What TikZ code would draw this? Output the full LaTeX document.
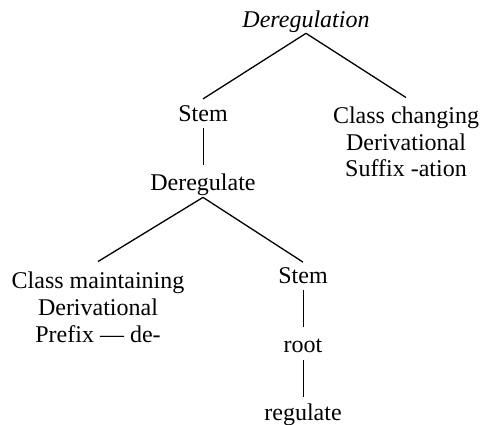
\documentclass[tikz,border=0pt]{standalone}
\usepackage{fontspec}
\setmainfont{Liberation Serif}
\begin{document}
\begin{tikzpicture}[x=1pt,y=-1pt,
  lbl/.style={inner sep=0pt, anchor=base, align=center, font=\fontsize{24}{27}\selectfont},
  edge/.style={line width=1.3pt, black},
  vedge/.style={line width=0.8pt, black}]
\useasboundingbox (0,0) rectangle (482,425);
\node[lbl, font=\fontsize{24}{27}\selectfont\itshape] (top) at (306,28) {Deregulation};
\node[lbl] (stem1) at (203,122) {Stem};
\node[lbl] (classch) at (406,177) {Class changing\\Derivational\\Suffix -ation};
\node[lbl] (dereg2) at (203,190) {Deregulate};
\node[lbl] (classm) at (98,342) {Class maintaining\\Derivational\\Prefix --- de-};
\node[lbl] (stem2) at (303,283) {Stem};
\node[lbl] (root) at (303,352) {root};
\node[lbl] (regul) at (303,420) {regulate};
\draw[edge] (top.south) -- ([yshift=7pt]stem1.north);
\draw[edge] (top.south) -- ([yshift=8.6pt]classch.north);
\draw[vedge] ([yshift=-6pt]stem1.south) -- ([yshift=8.6pt]dereg2.north);
\draw[edge] ([yshift=-2pt]dereg2.south) -- ([yshift=9.6pt]classm.north);
\draw[edge] ([yshift=-2pt]dereg2.south) -- ([yshift=4.8pt]stem2.north);
\draw[vedge] ([yshift=-7pt]stem2.south) -- ([yshift=11pt]root.north);
\draw[vedge] ([yshift=-8pt]root.south) -- ([yshift=6.6pt]regul.north);
\end{tikzpicture}
\end{document}
